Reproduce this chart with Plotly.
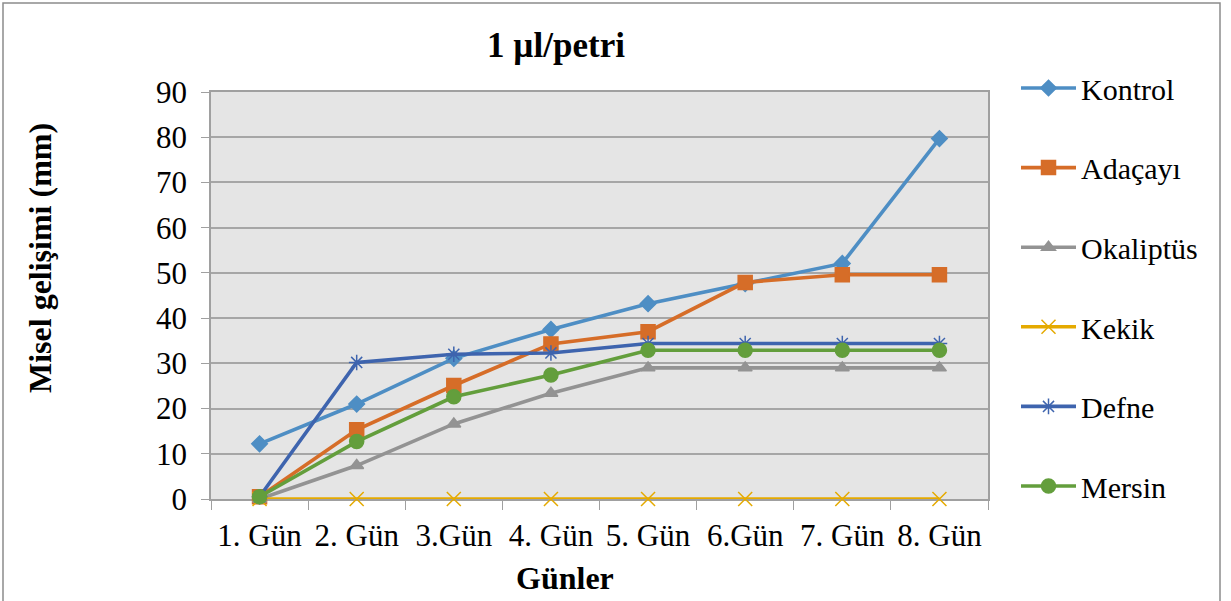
import plotly.graph_objects as go

days = ["1. Gün", "2. Gün", "3.Gün", "4. Gün", "5. Gün", "6.Gün", "7. Gün", "8. Gün"]
kontrol = [12.2, 21.0, 31.1, 37.5, 43.2, 47.6, 52.1, 79.7]
adacayi = [0.5, 15.3, 25.1, 34.3, 37.0, 47.9, 49.6, 49.6]
okaliptus = [0.0, 7.4, 16.6, 23.4, 29.0, 29.0, 29.0, 29.0]
kekik = [0, 0, 0, 0, 0, 0, 0, 0]
defne = [0.5, 30.2, 32.0, 32.3, 34.4, 34.4, 34.4, 34.4]
mersin = [0.5, 12.7, 22.6, 27.4, 32.9, 32.9, 32.9, 32.9]

series = [
    ("Kontrol", kontrol, "#4E8EC4", "diamond", 12),
    ("Adaçayı", adacayi, "#D66D28", "square", 14),
    ("Okaliptüs", okaliptus, "#939393", "triangle-up", 12),
    ("Kekik", kekik, "#E5AA00", "x-thin-open", 14),
    ("Defne", defne, "#3E64AE", "asterisk-open", 13),
    ("Mersin", mersin, "#639E3C", "circle", 14),
]

FONT = "Liberation Serif"
fig = go.Figure()
for i, (name, vals, color, sym, size) in enumerate(series):
    fig.add_trace(go.Scatter(
        x=days, y=vals, name=name, mode="lines+markers",
        legendgroup=f"g{i}", cliponaxis=False,
        line=dict(color=color, width=3.6),
        marker=dict(symbol=sym, size=size, color=color,
                    line=dict(color=color, width=1.5)),
    ))

L, R, T, B = 211, 243, 92, 102
W, H = 1231, 601
pw, ph = W - L - R, H - T - B

def px(x):
    return (x - L) / pw

def py(y):
    return (H - B - y) / ph

fig.update_layout(
    width=W, height=H,
    margin=dict(l=L, r=R, t=T, b=B, autoexpand=False),
    paper_bgcolor="white",
    plot_bgcolor="#E5E5E5",
    font=dict(family=FONT, size=31, color="black"),
    title=dict(text="<b>1 µl/petri</b>", x=556 / W, xanchor="center",
               y=1 - 45 / H, yanchor="middle",
               font=dict(family=FONT, size=35, color="black")),
    xaxis=dict(
        type="category", range=[-0.5, 7.5],
        tickson="boundaries", ticks="outside", ticklen=9, tickcolor="#A0A0A0",
        showgrid=False, showline=True, linecolor="#A0A0A0", linewidth=1.5,
        mirror=True, tickfont=dict(family=FONT, size=31, color="black"),
        ticklabelstandoff=8, layer="below traces",
    ),
    yaxis=dict(
        range=[0, 90], dtick=10, ticks="outside", ticklen=8, tickcolor="#A0A0A0",
        showgrid=True, gridcolor="#A6A6A6", gridwidth=1.5,
        showline=True, linecolor="#A0A0A0", linewidth=1.5, mirror=True,
        zeroline=False, tickfont=dict(family=FONT, size=31, color="black"),
        ticklabelstandoff=8, layer="below traces",
    ),
    legend=dict(
        x=px(1016), xanchor="left", y=py(62), yanchor="top",
        font=dict(family=FONT, size=30, color="black"), tracegroupgap=37.6,
        itemwidth=55,
        traceorder="grouped", bgcolor="rgba(0,0,0,0)", maxheight=580,
    ),
    annotations=[
        dict(text="<b>Günler</b>", xref="paper", yref="paper",
             x=px(565), y=py(578), xanchor="center", yanchor="middle",
             showarrow=False, font=dict(family=FONT, size=32, color="black")),
        dict(text="<b>Misel gelişimi (mm)</b>", xref="paper", yref="paper",
             x=px(40), y=py(258), xanchor="center", yanchor="middle",
             textangle=-90, showarrow=False,
             font=dict(family=FONT, size=32, color="black")),
    ],
    shapes=[dict(type="rect", xref="paper", yref="paper",
                 x0=px(3), x1=px(1220), y0=py(640), y1=py(3),
                 line=dict(color="#8C8C8C", width=1.5), fillcolor="rgba(0,0,0,0)",
                 layer="below")],
)

fig.write_html("out.html", post_script="document.body.style.margin='0';",
               config={"displayModeBar": False})
